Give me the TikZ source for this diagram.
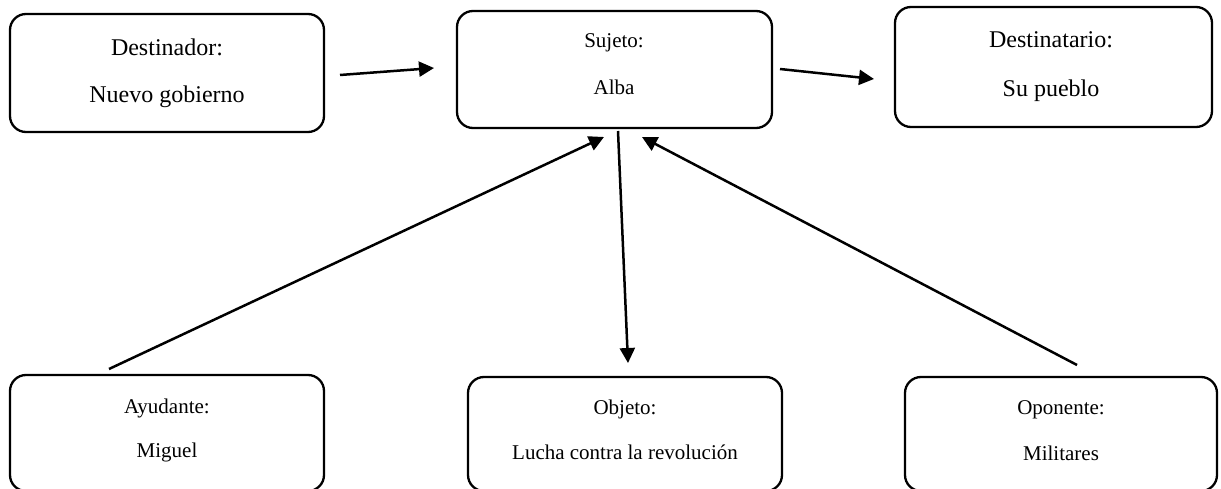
\documentclass[tikz,border=0pt]{standalone}
\usepackage{fontspec}
\setmainfont{Liberation Serif}
\usetikzlibrary{arrows.meta}
\begin{document}
\begin{tikzpicture}[x=1pt,y=-1pt,
  box/.style={draw, line width=2.3pt, rounded corners=16pt, inner sep=0pt},
  big/.style={font=\fontsize{24}{28}\selectfont, anchor=base, inner sep=0pt},
  small/.style={font=\fontsize{21}{25}\selectfont, anchor=base, inner sep=0pt},
  arr/.style={line width=2.5pt, -{Triangle[length=15pt,width=15pt]}}]
\useasboundingbox (0,0) rectangle (1221,489);
% boxes
\node[box, minimum width=314pt, minimum height=118pt] (dest) at (167,73) {};
\node[box, minimum width=315pt, minimum height=117pt] (suj) at (614.5,69.5) {};
\node[box, minimum width=317pt, minimum height=120pt] (destin) at (1053.5,67) {};
\node[box, minimum width=314pt, minimum height=116pt] (ayu) at (167,433) {};
\node[box, minimum width=314pt, minimum height=114pt] (obj) at (625,434) {};
\node[box, minimum width=312pt, minimum height=114pt] (opo) at (1061,434) {};
% texts
\node[big] (destT) at (167,56) {Destinador:};
\node[big] (destV) at (167,103) {Nuevo gobierno};
\node[small] (sujT) at (614,48) {Sujeto:};
\node[small] (sujV) at (614,95) {Alba};
\node[big] (destinT) at (1051,48) {Destinatario:};
\node[big] (destinV) at (1051,97) {Su pueblo};
\node[small] (ayuT) at (167,413) {Ayudante:};
\node[small] (ayuV) at (167,457) {Miguel};
\node[small] (objT) at (625,414) {Objeto:};
\node[small] (objV) at (625,459) {Lucha contra la revolución};
\node[small] (opoT) at (1061,414) {Oponente:};
\node[small] (opoV) at (1061,460) {Militares};
% connector end points
\coordinate (a1s) at (340,75);  \coordinate (a1e) at (434,68);
\coordinate (a2s) at (780,69);  \coordinate (a2e) at (874,79);
\coordinate (a3s) at (109,369); \coordinate (a3e) at (604,137);
\coordinate (a4s) at (618,131); \coordinate (a4e) at (628,363);
\coordinate (a5s) at (1077,365); \coordinate (a5e) at (642,137);
\draw[arr] (a1s) -- (a1e);
\draw[arr] (a2s) -- (a2e);
\draw[arr] (a3s) -- (a3e);
\draw[arr] (a4s) -- (a4e);
\draw[arr] (a5s) -- (a5e);
\end{tikzpicture}
\end{document}
